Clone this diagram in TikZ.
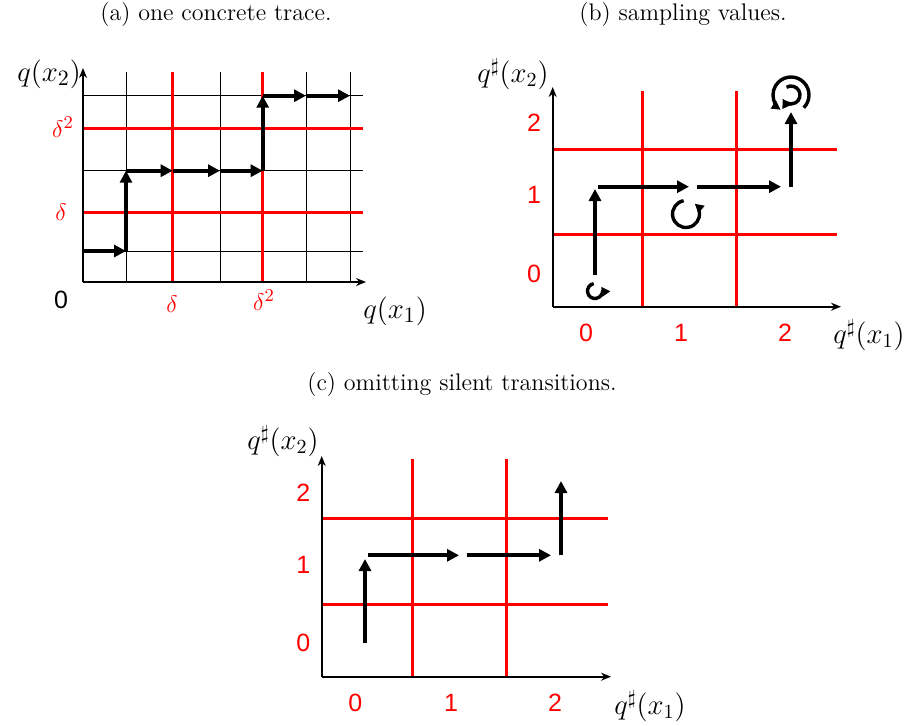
\documentclass[tikz,border=0pt]{standalone}
\usepackage{fontspec}
\newfontfamily\digitfont{Liberation Sans}
\usetikzlibrary{arrows.meta}
\tikzset{
  axis/.style={line width=0.8pt, -{Stealth[length=5pt,width=4pt]}},
  gridline/.style={line width=0.5pt},
  redline/.style={red, line width=1.4pt},
  trace/.style={line width=1.9pt, -{Triangle[length=6pt,width=6pt]}},
  loop/.style={line width=1.7pt, -{Triangle[length=4.5pt,width=4.5pt]}},
  num/.style={text=red, font=\digitfont\fontsize{12.5}{15}\selectfont},
  axlabel/.style={font=\fontsize{15.5}{18}\selectfont},
  sharplabel/.style={font=\fontsize{14.6}{17}\selectfont},
  caption/.style={font=\large}
}
\begin{document}
\begin{tikzpicture}[x=0.5pt, y=-0.5pt]
    \useasboundingbox (0,0) rectangle (906,725);

    % (a)
    \node[caption] (capa) at (216,15) {(a)\ one concrete trace.};
    \foreach \x in {126,220,306,350} \draw[gridline] (\x,72) -- (\x,282);
    \foreach \y in {95.7,170.7,251} \draw[gridline] (83,\y) -- (362.7,\y);
    \foreach \x in {172.7,262.7} \draw[redline] (\x,72) -- (\x,282);
    \foreach \y in {128.7,212.7} \draw[redline] (83,\y) -- (362.7,\y);
    \coordinate (oa) at (83,282);
    \draw[axis] (oa) -- (83,68);
    \draw[axis] (oa) -- (366,282);
    \node[axlabel] (qa2) at (49,74) {$q(x_2)$};
    \node[axlabel] (qa1) at (395,311) {$q(x_1)$};
    \node[font=\digitfont\fontsize{12.5}{15}\selectfont] (za) at (61,300) {0};
    \node[red, font=\fontsize{13}{16}\selectfont] (da1) at (61,212) {$\delta$};
    \node[red, font=\fontsize{13}{16}\selectfont] (da2) at (63,127) {$\delta^2$};
    \node[red, font=\fontsize{13}{16}\selectfont] (db1) at (172,304) {$\delta$};
    \node[red, font=\fontsize{13}{16}\selectfont] (db2) at (264,300) {$\delta^2$};
    \coordinate (t0) at (83,251);
    \coordinate (t1) at (126,251);
    \coordinate (t2) at (126,170.7);
    \coordinate (t3) at (172.7,170.7);
    \coordinate (t4) at (220,170.7);
    \coordinate (t5) at (262.7,170.7);
    \coordinate (t6) at (262.7,95.7);
    \coordinate (t7) at (306,95.7);
    \coordinate (t8) at (350,95.7);
    \draw[trace] (t0) -- (t1);
    \draw[trace] (t1) -- (t2);
    \draw[trace] (t2) -- (t3);
    \draw[trace] (t3) -- (t4);
    \draw[trace] (t4) -- (t5);
    \draw[trace] (t5) -- (t6);
    \draw[trace] (t6) -- (t7);
    \draw[trace] (t7) -- (t8);

    % (b)
    \node[caption] (capb) at (683,15) {(b)\ sampling values.};
    \foreach \x in {642.7,736.7} \draw[redline] (\x,90.7) -- (\x,306.7);
    \foreach \y in {149.3,234.3} \draw[redline] (552.7,\y) -- (836.7,\y);
    \coordinate (ob) at (552.7,306.7);
    \draw[axis] (ob) -- (552.7,87);
    \draw[axis] (ob) -- (841,306.7);
    \node[sharplabel] (qb2) at (513,74) {$q^\sharp(x_2)$};
    \node[sharplabel] (qb1) at (869,335) {$q^\sharp(x_1)$};
    \foreach \v/\y in {0/274,1/195,2/123} \node[num] at (534,\y) {\v};
    \foreach \v/\x in {0/586,1/681,2/785} \node[num] at (\x,332.7) {\v};
    \draw[trace] (595,275) -- (595,189);
    \draw[trace] (598.3,186.7) -- (689,186.7);
    \draw[trace] (696.7,186.7) -- (781,186.7);
    \draw[trace] (791,186.7) -- (791,112);
    \draw[loop] (595,291) ++(-100:7.5) arc[start angle=-100, end angle=-395, radius=7.5];
    \draw[loop] (686,214) ++(-100:13.5) arc[start angle=-100, end angle=-410, radius=13.5];
    \draw[loop] (791,95) ++(45:18) arc[start angle=45, end angle=-235, radius=18];
    \draw[loop] (791,95) ++(-120:9) arc[start angle=-120, end angle=155, radius=9];

    % (c)
    \node[caption] (capc) at (462,385) {(c)\ omitting silent transitions.};
    \foreach \x in {412.7,506.7} \draw[redline] (\x,459.3) -- (\x,676.7);
    \foreach \y in {518.7,604.3} \draw[redline] (321.7,\y) -- (608.3,\y);
    \coordinate (oc) at (321.7,676.7);
    \draw[axis] (oc) -- (321.7,456);
    \draw[axis] (oc) -- (611,676.7);
    \node[sharplabel] (qc2) at (283,441) {$q^\sharp(x_2)$};
    \node[sharplabel] (qc1) at (650,706) {$q^\sharp(x_1)$};
    \foreach \v/\y in {0/643,1/565.3,2/492.7} \node[num] at (303.3,\y) {\v};
    \foreach \v/\x in {0/355.3,1/451,2/555} \node[num] at (\x,703) {\v};
    \draw[trace] (365,643) -- (365,559);
    \draw[trace] (368.3,555.3) -- (459,555.3);
    \draw[trace] (466.7,555.3) -- (551,555.3);
    \draw[trace] (561,555.3) -- (561,481);
\end{tikzpicture}
\end{document}
